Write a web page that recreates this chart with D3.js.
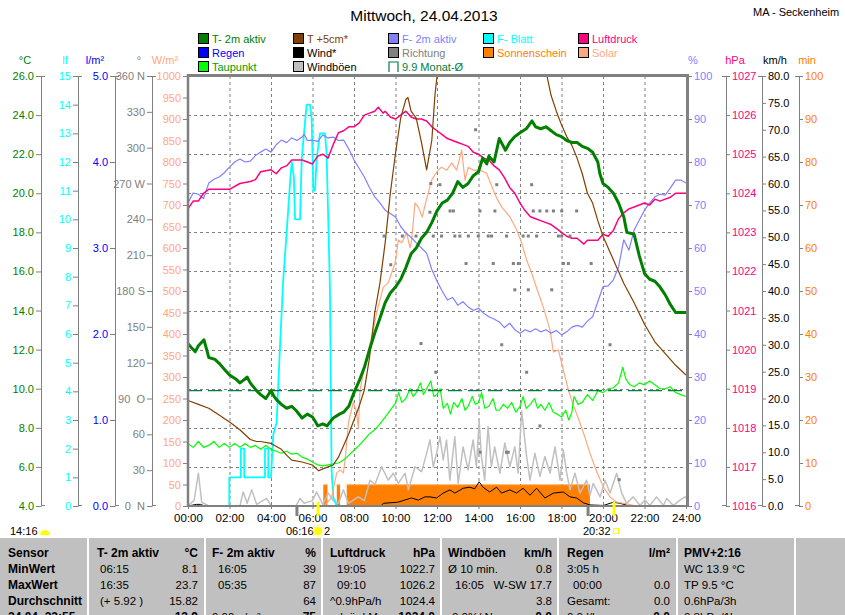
<!DOCTYPE html>
<html>
<head>
<meta charset="utf-8">
<script src="https://cdn.jsdelivr.net/npm/d3@7"></script>
<style>
body { margin: 0; background: #fff; }
svg text { font-family: "Liberation Sans", Arial, sans-serif; font-size: 11px; }
</style>
</head>
<body>
<div id="chart"></div>
<script>
// ---------------- data (hour of day, value) ----------------
var timeLabels = ['00:00','02:00','04:00','06:00','08:00','10:00','12:00','14:00','16:00','18:00','20:00','22:00','24:00'];

var temp2m = [[0,12.3],[0.17,12.1],[0.35,11.9],[0.5,12.2],[0.77,12.5],[0.9,12.0],[1.0,11.6],[1.3,11.5],[1.5,11.3],[1.75,11.0],[2.0,10.7],[2.3,10.5],[2.5,10.3],[2.75,10.5],[2.85,10.6],[3.0,10.3],[3.3,9.9],[3.5,9.7],[3.75,9.5],[4.0,9.9],[4.15,9.6],[4.3,9.4],[4.5,9.2],[4.75,9.0],[5.0,9.1],[5.2,8.9],[5.5,8.5],[5.75,8.7],[6.0,8.55],[6.15,8.3],[6.25,8.1],[6.5,8.2],[6.7,8.1],[7.0,8.5],[7.3,8.7],[7.5,8.8],[7.75,9.1],[8.0,9.8],[8.25,10.4],[8.5,11.1],[8.75,12.0],[9.0,12.85],[9.25,13.6],[9.5,14.4],[9.75,14.9],[10.0,15.2],[10.25,15.6],[10.5,16.2],[10.75,16.9],[11.0,17.2],[11.25,17.7],[11.5,18.0],[11.75,18.5],[12.0,19.1],[12.25,19.5],[12.5,19.65],[12.75,20.0],[13.0,20.6],[13.25,20.3],[13.5,20.5],[13.75,20.9],[14.0,21.1],[14.2,21.8],[14.4,21.5],[14.5,21.9],[14.75,21.6],[15.0,22.8],[15.15,22.5],[15.3,22.2],[15.5,22.6],[15.75,22.9],[16.0,23.1],[16.3,23.3],[16.58,23.7],[16.75,23.4],[17.0,23.3],[17.25,23.4],[17.5,23.2],[17.75,23.0],[18.0,22.9],[18.25,22.7],[18.5,22.6],[18.75,22.6],[19.0,22.4],[19.25,22.3],[19.5,22.1],[19.75,21.6],[19.85,21.0],[20.0,20.5],[20.25,20.3],[20.5,20.0],[20.75,19.5],[21.0,18.8],[21.15,18.0],[21.5,17.9],[21.75,16.8],[22.0,15.9],[22.25,15.6],[22.5,15.5],[22.75,15.2],[23.0,14.8],[23.25,14.3],[23.5,13.9],[24.0,13.9]];

var dewPoint = [[0,7.2],[0.25,7.0],[0.5,7.3],[0.75,7.0],[1.0,7.1],[1.25,7.3],[1.5,7.0],[1.75,7.2],[2.0,7.0],[2.25,7.2],[2.5,7.0],[2.75,7.2],[3.0,7.0],[3.25,7.1],[3.5,6.9],[3.75,7.1],[4.0,6.9],[4.25,6.8],[4.5,6.7],[4.75,6.8],[5.0,6.65],[5.25,6.7],[5.5,6.5],[5.75,6.4],[6.0,6.25],[6.25,6.1],[6.5,6.05],[6.75,6.1],[7.0,6.15],[7.25,6.2],[7.5,6.35],[7.75,6.6],[8.0,6.85],[8.25,7.1],[8.5,7.4],[8.75,7.7],[9.0,7.9],[9.25,8.2],[9.5,8.55],[9.75,8.9],[10.0,9.25],[10.15,9.8],[10.3,9.3],[10.5,9.5],[10.7,10.0],[10.85,9.6],[11.0,9.8],[11.2,10.3],[11.35,9.7],[11.5,10.0],[11.7,10.4],[11.85,9.6],[12.0,9.7],[12.15,10.0],[12.3,9.0],[12.5,9.25],[12.65,8.7],[12.8,9.3],[13.0,9.05],[13.2,9.5],[13.35,8.9],[13.5,9.1],[13.7,9.6],[13.85,9.2],[14.0,9.3],[14.15,9.8],[14.3,9.0],[14.5,9.1],[14.7,9.5],[14.85,8.9],[15.0,8.9],[15.2,9.2],[15.4,9.0],[15.6,9.3],[15.8,8.8],[16.0,9.1],[16.15,9.6],[16.3,9.0],[16.5,9.2],[16.7,9.5],[16.85,9.0],[17.0,9.2],[17.2,8.9],[17.4,9.3],[17.6,8.8],[17.8,8.7],[18.0,8.55],[18.2,8.9],[18.35,8.4],[18.5,8.8],[18.6,9.6],[18.8,9.2],[19.0,9.3],[19.25,9.7],[19.5,9.4],[19.75,9.9],[20.0,9.8],[20.25,10.0],[20.5,10.05],[20.75,10.3],[20.95,11.1],[21.1,10.5],[21.3,10.2],[21.5,10.1],[21.75,10.3],[22.0,10.2],[22.25,10.4],[22.5,10.2],[22.75,10.0],[23.0,10.0],[23.25,10.1],[23.5,9.8],[23.75,9.7],[24.0,9.6]];

var temp5cm = [[0,9.4],[0.5,9.2],[1.0,9.0],[1.5,8.65],[2.0,8.3],[2.5,7.9],[3.0,7.4],[3.3,7.3],[3.5,7.3],[4.0,7.2],[4.5,6.9],[4.75,6.6],[5.0,6.35],[5.5,6.25],[6.0,6.1],[6.3,5.8],[6.5,5.9],[6.75,6.0],[7.0,6.1],[7.25,6.5],[7.5,7.1],[7.75,7.7],[8.0,8.4],[8.25,9.1],[8.5,9.95],[8.75,11.6],[9.0,13.9],[9.25,15.4],[9.5,17.45],[9.75,20.0],[10.0,22.05],[10.25,23.85],[10.5,24.8],[10.6,24.9],[10.75,24.2],[11.0,23.85],[11.25,22.6],[11.5,21.2],[11.75,22.7],[11.9,25.0],[12.05,26.5],[13,29],[14,30],[15,30],[16,28.5],[17,26.8],[17.3,26.0],[17.5,25.0],[17.75,24.2],[18.0,23.5],[18.25,22.9],[18.5,22.45],[18.75,21.8],[19.0,21.0],[19.25,20.0],[19.5,19.5],[19.75,18.6],[20.0,17.8],[20.25,17.2],[20.5,16.6],[20.75,16.0],[21.0,15.4],[21.5,14.4],[22.0,13.3],[22.5,12.4],[23.0,11.8],[23.5,11.2],[24.0,10.7]];

var humidity = [[0,70.5],[0.25,72.8],[0.5,72.5],[0.75,71.5],[1.0,75.1],[1.25,76.0],[1.5,76.5],[1.75,77.5],[2.0,78.8],[2.25,80.0],[2.5,80.7],[2.75,80.0],[3.0,80.2],[3.25,81.5],[3.5,82.3],[3.75,83.0],[4.0,82.3],[4.25,84.0],[4.5,85.1],[4.75,84.5],[5.0,85.6],[5.25,85.0],[5.5,85.8],[5.6,86.5],[5.75,85.0],[6.0,85.1],[6.25,84.8],[6.5,86.3],[6.75,85.6],[7.0,85.8],[7.25,85.0],[7.5,85.1],[7.75,83.0],[8.0,80.5],[8.25,78.5],[8.5,76.5],[8.75,74.0],[9.0,71.9],[9.25,70.5],[9.5,68.8],[9.75,68.0],[10.0,67.2],[10.25,65.0],[10.5,63.5],[10.75,62.5],[11.0,61.2],[11.25,60.0],[11.5,58.8],[11.75,55.0],[12.0,52.3],[12.25,50.0],[12.5,47.9],[12.75,48.5],[13.0,46.7],[13.25,47.5],[13.5,46.3],[13.75,45.5],[14.0,46.0],[14.25,44.8],[14.5,44.0],[14.75,43.5],[15.0,42.8],[15.25,41.5],[15.5,42.5],[15.75,41.0],[16.0,40.2],[16.25,41.0],[16.5,40.5],[16.75,41.2],[17.0,40.5],[17.25,41.0],[17.5,40.2],[17.75,40.8],[18.0,39.8],[18.25,40.5],[18.5,41.6],[18.75,42.0],[19.0,41.6],[19.25,43.0],[19.5,44.0],[19.75,47.5],[20.0,51.0],[20.25,51.2],[20.5,52.6],[20.75,55.6],[21.0,61.9],[21.25,59.5],[21.5,64.2],[21.75,66.5],[22.0,68.8],[22.25,70.5],[22.5,71.9],[22.75,72.5],[23.0,72.3],[23.25,74.0],[23.5,75.8],[23.75,75.8],[24.0,75.1]];

var leafWet = [[0,0],[1.99,0],[1.99,1],[2.55,1],[2.55,2],[2.71,2],[2.71,1],[3.71,1],[3.71,2],[3.87,2],[3.87,1],[4.0,1],[4.11,2.5],[4.27,2.9],[4.43,5.5],[4.59,7.9],[4.75,9.5],[4.92,11.3],[5.0,12.0],[5.1,11.5],[5.16,10.0],[5.4,10.0],[5.48,12.1],[5.64,13.4],[5.72,14.0],[5.88,14.0],[5.96,13.5],[6.04,11.0],[6.12,11.0],[6.2,12.1],[6.36,13.0],[6.6,13.0],[6.68,12.3],[6.84,7.6],[6.92,1.25],[7.0,0.3],[7.17,0],[24,0]];

var pressure = [[0,1023.6],[0.25,1023.8],[0.5,1023.8],[0.75,1024.0],[1.0,1024.1],[1.5,1024.1],[2.0,1024.1],[2.5,1024.25],[3.0,1024.3],[3.25,1024.35],[3.5,1024.55],[4.0,1024.6],[4.25,1024.5],[4.5,1024.65],[4.75,1024.7],[5.0,1024.85],[5.5,1024.85],[6.0,1024.75],[6.25,1024.95],[6.5,1025.0],[6.75,1024.9],[7.0,1025.25],[7.25,1025.55],[7.5,1025.6],[7.75,1025.7],[8.0,1025.7],[8.25,1025.8],[8.5,1026.0],[8.75,1026.05],[9.0,1026.1],[9.17,1026.2],[9.4,1026.05],[9.5,1026.1],[9.75,1025.95],[10.0,1025.9],[10.25,1026.0],[10.5,1026.1],[10.75,1025.95],[11.0,1025.9],[11.25,1025.9],[11.5,1025.85],[11.75,1025.7],[12.0,1025.6],[12.25,1025.5],[12.5,1025.4],[12.75,1025.35],[13.0,1025.3],[13.25,1025.25],[13.5,1025.2],[13.75,1025.05],[14.0,1025.0],[14.25,1024.9],[14.5,1024.85],[14.75,1024.7],[15.0,1024.6],[15.25,1024.4],[15.5,1024.15],[15.75,1024.0],[16.0,1023.75],[16.25,1023.55],[16.5,1023.4],[16.75,1023.35],[17.0,1023.3],[17.25,1023.25],[17.5,1023.2],[17.75,1023.1],[18.0,1023.0],[18.25,1022.9],[18.5,1022.85],[18.75,1022.85],[19.08,1022.7],[19.25,1022.8],[19.5,1022.8],[19.75,1022.8],[20.0,1022.95],[20.25,1022.9],[20.5,1023.05],[20.75,1023.35],[21.0,1023.5],[21.25,1023.6],[21.5,1023.65],[21.75,1023.7],[22.0,1023.75],[22.25,1023.7],[22.5,1023.85],[22.75,1023.8],[23.0,1023.85],[23.25,1023.9],[23.5,1024.0],[24.0,1024.0]];

var solar = [[0,0],[6.4,0],[6.6,2],[6.92,20],[7.17,77],[7.33,84],[7.49,77],[7.57,107],[7.73,193],[7.97,242],[8.13,216],[8.21,181],[8.29,270],[8.61,347],[8.93,409],[9.09,449],[9.25,479],[9.41,509],[9.65,519],[9.98,565],[10.14,619],[10.3,612],[10.54,635],[10.7,600],[10.78,619],[10.94,705],[11.1,695],[11.29,672],[11.45,705],[11.74,758],[11.9,770],[12.06,781],[12.22,788],[12.47,781],[12.71,798],[12.95,781],[13.19,828],[13.35,758],[13.51,788],[13.75,781],[14.07,781],[14.39,774],[14.71,735],[14.88,716],[15.12,695],[15.52,672],[15.84,642],[16.08,612],[16.32,572],[16.56,542],[16.8,507],[17.12,463],[17.45,409],[17.61,358],[17.85,363],[18.09,316],[18.33,270],[18.57,235],[18.89,193],[19.13,160],[19.37,123],[19.7,79],[20.02,44],[20.34,21],[20.66,9],[21.14,5],[21.62,0],[24,0]];

var wind = [[0,0],[0.4,0.3],[0.6,0.3],[0.8,0],[9.3,0],[9.41,0.5],[10.1,0.7],[10.78,1.5],[11.1,1.1],[11.42,1.7],[11.66,1.7],[11.98,1.5],[12.3,2.4],[12.62,3.0],[12.86,2.4],[13.26,3.3],[13.58,3.5],[13.82,3.2],[14.03,4.5],[14.22,3.5],[14.54,2.6],[14.87,3.5],[15.11,2.4],[15.51,3.0],[15.83,2.4],[16.15,3.3],[16.48,2.0],[16.8,3.3],[17.2,1.5],[17.61,2.4],[18.09,2.6],[18.41,1.7],[18.73,1.5],[19.05,0.6],[19.37,0.2],[20.02,0.1],[20.5,0.7],[20.82,0.5],[21.3,0],[24,0]];

var gusts = [[0,0],[0.3,1.1],[0.5,6.1],[0.66,0.7],[1,0],[2.5,0],[2.66,2.6],[2.85,0.5],[3.07,3.0],[3.31,0.3],[3.79,1.4],[4.0,0],[5.2,0],[5.4,1.4],[5.6,0.5],[6.0,1.0],[6.2,2.6],[6.5,0.3],[6.76,2.4],[7.0,1.0],[7.25,0.5],[7.49,3.0],[7.73,0.5],[8.21,1.7],[8.5,1.0],[8.77,4.8],[9.01,4.0],[9.33,7.3],[9.65,4.8],[9.89,6.1],[10.14,4.2],[10.46,6.1],[10.62,3.0],[10.94,7.3],[11.26,6.4],[11.5,9.8],[11.66,12.3],[11.82,7.3],[11.98,9.8],[12.14,12.9],[12.3,8.6],[12.46,12.3],[12.62,4.8],[12.86,12.9],[13.02,4.2],[13.26,11.0],[13.5,6.7],[13.74,12.3],[13.9,7.3],[14.03,16.0],[14.14,9.2],[14.3,4.8],[14.46,14.8],[14.62,7.3],[14.78,11.0],[15.03,6.1],[15.27,11.7],[15.51,7.3],[15.75,11.0],[15.91,6.1],[16.08,17.7],[16.32,9.2],[16.48,4.8],[16.72,9.8],[16.96,5.5],[17.2,9.2],[17.45,6.1],[17.69,11.0],[17.93,4.8],[18.09,10.4],[18.25,6.1],[18.41,3.0],[18.65,6.1],[18.89,2.4],[19.21,4.8],[19.37,2.0],[19.53,4.2],[19.86,1.7],[20.1,4.8],[20.34,2.4],[20.66,6.1],[20.9,2.4],[21.14,0.5],[21.46,1.7],[21.78,0.1],[22.02,1.1],[22.26,0.1],[22.58,1.7],[22.91,0.1],[23.07,1.4],[23.39,0.1],[23.71,1.1],[23.95,1.7],[24,1.5]];

var direction = [[9.45,226],[9.77,202],[10.33,226],[10.99,226],[11.23,136],[11.66,246],[11.7,270],[11.82,226],[11.94,112],[12.14,269],[12.22,226],[12.63,247],[12.79,247],[12.86,226],[13.1,226],[13.4,203],[13.51,226],[13.86,315],[13.99,226],[14.07,247],[14.07,45],[14.47,226],[14.63,226],[14.71,203],[14.79,247],[14.88,269],[15.12,135],[15.35,226],[15.35,45],[15.43,45],[15.68,203],[15.75,181],[15.92,203],[16.15,226],[16.32,112],[16.4,226],[16.4,181],[16.56,269],[16.64,247],[16.8,226],[16.96,247],[16.96,67],[17.29,247],[17.53,181],[17.61,247],[17.85,226],[18.01,247],[18.01,226],[18.09,203],[18.33,203],[18.41,226],[18.73,247],[19.43,203],[20.34,135],[20.78,22]];

// sunshine: [start hour, end hour, minutes per 5 min]
var sunshine = [[6.52,6.72,5],[7.17,7.33,5],[7.65,19.37,5]];
var monthAvg = 9.9;

// ---------------- layout ----------------
var W = 845, H = 615;
var pLeft = 188, pRight = 686, pTop = 76, pBottom = 506;

var svg = d3.select('#chart').append('svg')
  .attr('width', W).attr('height', H);

var x = d3.scaleLinear().domain([0, 24]).range([pLeft, pRight]);
var yT = d3.scaleLinear().domain([4, 26]).range([pBottom, pTop]);
var yLf = d3.scaleLinear().domain([0, 15]).range([pBottom, pTop]);
var yRain = d3.scaleLinear().domain([0, 5]).range([pBottom, pTop]);
var yDir = d3.scaleLinear().domain([0, 360]).range([pBottom, pTop]);
var ySol = d3.scaleLinear().domain([0, 1000]).range([pBottom, pTop]);
var yHum = d3.scaleLinear().domain([0, 100]).range([pBottom, pTop]);
var yP = d3.scaleLinear().domain([1016, 1027]).range([pBottom, pTop]);
var yWind = d3.scaleLinear().domain([0, 80]).range([pBottom, pTop]);
var ySun = d3.scaleLinear().domain([0, 100]).range([pBottom, pTop]);

// title
svg.append('text').attr('x', 424).attr('y', 21).attr('text-anchor', 'middle')
  .style('font-size', '15.5px').text('Mittwoch, 24.04.2013');
svg.append('text').attr('x', 753).attr('y', 16).text('MA - Seckenheim');

// legend
var legendItems = [
  ['T- 2m aktiv', '#008000', '#008000'], ['T +5cm*', '#804000', '#804000'], ['F- 2m aktiv', '#8080ff', '#8080ff'], ['F- Blatt', '#00ffff', '#00ffff'], ['Luftdruck', '#ff0080', '#ff0080'],
  ['Regen', '#0000ff', '#0000ff'], ['Wind*', '#000000', '#000000'], ['Richtung', '#808080', '#808080'], ['Sonnenschein', '#ff8000', '#ff8000'], ['Solar', '#ffa880', '#ffa880'],
  ['Taupunkt', '#00ff00', '#00a000'], ['Windböen', '#c0c0c0', '#000000'], ['9.9 Monat-Ø', null, '#008040']
];
var legendX = [198, 293, 388, 483, 578];
var lg = svg.selectAll('.leg').data(legendItems).enter().append('g')
  .attr('transform', function(d, i) {
    return 'translate(' + legendX[i % 5] + ',' + (33 + Math.floor(i / 5) * 14) + ')';
  });
lg.filter(function(d) { return d[1]; }).append('rect')
  .attr('x', 0.5).attr('y', 0.5).attr('width', 10).attr('height', 10)
  .attr('fill', function(d) { return d[1]; }).attr('stroke', '#000');
lg.filter(function(d) { return !d[1]; }).append('path')
  .attr('d', 'M1,11V1H10V11').attr('fill', 'none').attr('stroke', '#008040').attr('stroke-width', 1.2);
lg.append('text').attr('x', 14).attr('y', 10)
  .attr('fill', function(d) { return d[2]; })
  .text(function(d) { return d[0]; });

// axis headers
var headers = [['°C', 25, '#008000'], ['lf', 65, '#00ffff'], ['l/m²', 95, '#0000ff'], ['°', 139, '#808080'], ['W/m²', 165, '#ffa880'],
  ['%', 693, '#8080ff'], ['hPa', 735, '#ff0080'], ['km/h', 775, '#000000'], ['min', 807, '#ff8000']];
svg.selectAll('.hdr').data(headers).enter().append('text')
  .attr('x', function(d) { return d[1]; }).attr('y', 64).attr('text-anchor', 'middle')
  .attr('fill', function(d) { return d[2]; }).text(function(d) { return d[0]; });

// grid
var grid = svg.append('g').attr('stroke', '#808080').attr('stroke-dasharray', '3,3');
grid.selectAll('.vg').data(d3.range(2, 24, 2)).enter().append('line')
  .attr('x1', function(d) { return x(d) + 0.5; }).attr('x2', function(d) { return x(d) + 0.5; })
  .attr('y1', pTop).attr('y2', pBottom);
grid.selectAll('.hg').data(d3.range(6, 26, 2)).enter().append('line')
  .attr('x1', pLeft).attr('x2', pRight)
  .attr('y1', function(d) { return Math.round(yT(d)) + 0.5; }).attr('y2', function(d) { return Math.round(yT(d)) + 0.5; });

// axes
function styleAxis(g, color) {
  g.attr('font-family', null).attr('font-size', null);
  g.select('.domain').attr('stroke', '#808080');
  g.selectAll('.tick line').attr('stroke', '#808080');
  g.selectAll('.tick text').attr('fill', color);
}
function leftAxis(scale, xPos, ticks, fmt, color, cap) {
  var ax = d3.axisLeft(scale).tickValues(ticks).tickFormat(fmt).tickSize(5).tickSizeOuter(0).tickPadding(2);
  var g = svg.append('g').attr('transform', 'translate(' + xPos + ',0)').call(ax);
  styleAxis(g, color);
  if (cap) {
    g.append('line').attr('x1', 0).attr('x2', 4).attr('y1', pTop + 0.5).attr('y2', pTop + 0.5).attr('stroke', '#808080');
    g.append('line').attr('x1', 0).attr('x2', 4).attr('y1', pBottom - 0.5).attr('y2', pBottom - 0.5).attr('stroke', '#808080');
  }
  return g;
}
function rightAxis(scale, xPos, ticks, fmt, color, cap) {
  var ax = d3.axisRight(scale).tickValues(ticks).tickFormat(fmt).tickSize(4).tickSizeOuter(0).tickPadding(2);
  var g = svg.append('g').attr('transform', 'translate(' + xPos + ',0)').call(ax);
  styleAxis(g, color);
  if (cap) {
    g.append('line').attr('x1', -4).attr('x2', 0).attr('y1', pTop + 0.5).attr('y2', pTop + 0.5).attr('stroke', '#808080');
    g.append('line').attr('x1', -4).attr('x2', 0).attr('y1', pBottom - 0.5).attr('y2', pBottom - 0.5).attr('stroke', '#808080');
  }
  return g;
}
var dirNames = {360: '360 N', 270: '270 W', 180: '180 S', 90: '90  O', 0: '0  N'};

leftAxis(yT, 41, d3.range(4, 27, 2), d3.format('.1f'), '#008000', true);
leftAxis(yLf, 78, d3.range(0, 16, 1), d3.format('d'), '#00ffff', true);
leftAxis(yRain, 115, d3.range(0, 6, 1), d3.format('.1f'), '#0000ff', true);
leftAxis(yDir, 152, d3.range(0, 361, 30), function(d) { return dirNames[d] || d; }, '#808080', true)
  .selectAll('.tick text').style('white-space', 'pre');
leftAxis(ySol, pLeft, d3.range(0, 1001, 50), d3.format('d'), '#ffa880', false);

rightAxis(yHum, 688, d3.range(0, 101, 10), d3.format('d'), '#8080ff', false);
rightAxis(yP, 726, d3.range(1016, 1028, 1), d3.format('d'), '#ff0080', true);
rightAxis(yWind, 762, d3.range(0, 81, 5), d3.format('.1f'), '#000000', true);
rightAxis(ySun, 799, d3.range(0, 101, 10), d3.format('d'), '#ff8000', true);

// x axis
var xAx = d3.axisBottom(x).tickValues(d3.range(0, 25, 2))
  .tickFormat(function(d) { return timeLabels[d / 2]; }).tickSize(3).tickSizeOuter(0).tickPadding(5);
var gx = svg.append('g').attr('transform', 'translate(0,' + pBottom + ')').call(xAx);
gx.attr('font-family', null).attr('font-size', null);
gx.select('.domain').attr('stroke', '#808080');
gx.selectAll('.tick line').attr('stroke', '#808080');
gx.selectAll('.tick text').attr('fill', '#000').style('font-size', '11.5px');

// clip
svg.append('clipPath').attr('id', 'plot').append('rect')
  .attr('x', pLeft).attr('y', pTop).attr('width', pRight - pLeft).attr('height', pBottom - pTop);
var plot = svg.append('g').attr('clip-path', 'url(#plot)');

function drawLine(data, scale, color, width) {
  var line = d3.line()
    .x(function(d) { return x(d[0]); })
    .y(function(d) { return scale(d[1]); });
  return plot.append('path').datum(data)
    .attr('d', line).attr('fill', 'none')
    .attr('stroke', color).attr('stroke-width', width)
    .attr('stroke-linejoin', 'round');
}

// sunshine bars
plot.selectAll('.sun').data(sunshine).enter().append('rect')
  .attr('x', function(d) { return x(d[0]); })
  .attr('width', function(d) { return x(d[1]) - x(d[0]); })
  .attr('y', function(d) { return ySun(d[2]); })
  .attr('height', function(d) { return pBottom - ySun(d[2]); })
  .attr('fill', '#ff8000');
plot.selectAll('.sunedge').data(sunshine).enter().append('line')
  .attr('x1', function(d) { return x(d[0]); }).attr('x2', function(d) { return x(d[1]); })
  .attr('y1', function(d) { return ySun(d[2]) + 0.5; }).attr('y2', function(d) { return ySun(d[2]) + 0.5; })
  .attr('stroke', '#ffb060').attr('stroke-dasharray', '1,1');

drawLine(gusts, yWind, '#c0c0c0', 1.5);
drawLine(wind, yWind, '#000000', 1);
drawLine(leafWet, yLf, '#00ffff', 1.8);
drawLine(solar, ySol, '#ffa880', 1.2);
drawLine(humidity, yHum, '#8080ff', 1.2);
drawLine(pressure, yP, '#ff0080', 1.5);
drawLine(dewPoint, yT, '#00ff00', 1.2);
drawLine(temp5cm, yT, '#804000', 1.2);

// monthly mean
plot.append('line')
  .attr('x1', pLeft).attr('x2', pRight)
  .attr('y1', yT(monthAvg)).attr('y2', yT(monthAvg))
  .attr('stroke', '#008040').attr('stroke-width', 1.2).attr('stroke-dasharray', '14,6');

drawLine(temp2m, yT, '#008000', 3);

// wind direction dots
plot.selectAll('.dir').data(direction).enter().append('rect')
  .attr('x', function(d) { return x(d[0]) - 1.5; })
  .attr('y', function(d) { return yDir(d[1]) - 1.5; })
  .attr('width', 3).attr('height', 3).attr('fill', '#808080');

// frame
svg.append('line').attr('x1', pLeft - 1).attr('x2', pRight + 3).attr('y1', pTop - 0.5).attr('y2', pTop - 0.5)
  .attr('stroke', '#808080').attr('stroke-width', 3);
svg.append('line').attr('x1', pLeft).attr('x2', pLeft).attr('y1', pTop - 2).attr('y2', pBottom)
  .attr('stroke', '#808080').attr('stroke-width', 2.5);
svg.append('line').attr('x1', pRight + 1.5).attr('x2', pRight + 1.5).attr('y1', pTop - 2).attr('y2', pBottom)
  .attr('stroke', '#808080').attr('stroke-width', 3);
svg.append('line').attr('x1', pLeft).attr('x2', pRight + 3).attr('y1', pBottom).attr('y2', pBottom)
  .attr('stroke', '#808080').attr('stroke-width', 2);

// twilight / sunrise / sunset markers
var twilight = [5.25, 19.28];
svg.selectAll('.tw').data(twilight).enter().append('line')
  .attr('x1', function(d) { return x(d); }).attr('x2', function(d) { return x(d); })
  .attr('y1', pBottom).attr('y2', pBottom + 10).attr('stroke', '#808080').attr('stroke-width', 3);
var sunTimes = [6 + 16 / 60, 20 + 32 / 60];
svg.selectAll('.sr').data(sunTimes).enter().append('line')
  .attr('x1', function(d) { return x(d); }).attr('x2', function(d) { return x(d); })
  .attr('y1', pBottom - 4).attr('y2', pBottom + 10).attr('stroke', '#ffff00').attr('stroke-width', 3);

svg.append('text').attr('x', 10).attr('y', 535).text('14:16');
svg.append('path').attr('d', 'M40,535 A5,5 0 0 1 50,535 Z').attr('fill', '#ffff00');
svg.append('text').attr('x', 286).attr('y', 535).text('06:16');
var sun = svg.append('g').attr('transform', 'translate(318,531)');
sun.append('circle').attr('r', 4).attr('fill', '#ffff00');
sun.selectAll('line').data(d3.range(0, 360, 45)).enter().append('line')
  .attr('x1', function(d) { return 4.5 * Math.cos(d * Math.PI / 180); })
  .attr('y1', function(d) { return 4.5 * Math.sin(d * Math.PI / 180); })
  .attr('x2', function(d) { return 6.5 * Math.cos(d * Math.PI / 180); })
  .attr('y2', function(d) { return 6.5 * Math.sin(d * Math.PI / 180); })
  .attr('stroke', '#ffff00').attr('stroke-width', 1);
svg.append('text').attr('x', 324).attr('y', 535).text('2');
svg.append('text').attr('x', 583).attr('y', 535).text('20:32');
svg.append('rect').attr('x', 613.5).attr('y', 528.5).attr('width', 5).attr('height', 5)
  .attr('fill', 'none').attr('stroke', '#ffff00');

// ---------------- table ----------------
var tableTop = 538;
var colSep = [88, 205, 322, 441, 558, 677, 795];
var headX = [8, 97, 212, 330, 448, 567, 684];
var unitX = [null, 198, 316, 435, 552, 670, null];
var tableHeads = ['Sensor', 'T- 2m aktiv', 'F- 2m aktiv', 'Luftdruck', 'Windböen', 'Regen', 'PMV+2:16'];
var tableUnits = ['', '°C', '%', 'hPa', 'km/h', 'l/m²', ''];
var rowNames = ['MinWert', 'MaxWert', 'Durchschnitt', '24.04. 23:55'];
var cellLeft = [
  null,
  ['06:15', '16:35', '(+ 5.92 )', ''],
  ['16:05', '05:35', '', '9.99 g/m³'],
  ['19:05', '09:10', '^0.9hPa/h', 'rel. ü.d.M.'],
  ['Ø 10 min.', '16:05', '', '0.0%/ N'],
  ['3:05 h', '00:00', 'Gesamt:', '0.0 l/h'],
  ['WC 13.9 °C', 'TP 9.5 °C', '0.6hPa/3h', '0.3hPa/1h']
];
var cellLeftX = [
  null,
  [100, 100, 100, 100],
  [218, 218, 218, 212],
  [337, 337, 330, 330],
  [448, 455, 448, 452],
  [567, 573, 567, 567],
  [684, 684, 684, 684]
];
var cellRight = [
  null,
  ['8.1', '23.7', '15.82', '13.9'],
  ['39', '87', '64', '75'],
  ['1022.7', '1026.2', '1024.4', '1024.0'],
  ['0.8', 'W-SW 17.7', '3.8', '0.0'],
  ['', '0.0', '0.0', '0.0'],
  null
];
var rowY = [557, 573, 589, 605, 621];

svg.append('rect').attr('x', 0).attr('y', tableTop).attr('width', W).attr('height', H - tableTop).attr('fill', '#c0c0c0');
svg.selectAll('.sep').data(colSep).enter().append('line')
  .attr('x1', function(d) { return d; }).attr('x2', function(d) { return d; })
  .attr('y1', tableTop).attr('y2', H).attr('stroke', '#ffffff').attr('stroke-width', 2);

var tb = svg.append('g');
tableHeads.forEach(function(h, i) {
  tb.append('text').attr('x', headX[i]).attr('y', rowY[0])
    .style('font-weight', 'bold').style('font-size', '12px').text(h);
  if (tableUnits[i]) {
    tb.append('text').attr('x', unitX[i]).attr('y', rowY[0]).attr('text-anchor', 'end')
      .style('font-weight', 'bold').style('font-size', '12px').text(tableUnits[i]);
  }
});
rowNames.forEach(function(r, j) {
  tb.append('text').attr('x', 8).attr('y', rowY[j + 1])
    .style('font-weight', 'bold').style('font-size', '12px').text(r);
});
for (var c = 1; c < 7; c++) {
  for (var r = 0; r < 4; r++) {
    if (cellLeft[c][r]) {
      tb.append('text').attr('x', cellLeftX[c][r]).attr('y', rowY[r + 1])
        .style('font-size', '11.5px').text(cellLeft[c][r]);
    }
    if (cellRight[c] && cellRight[c][r]) {
      tb.append('text').attr('x', unitX[c]).attr('y', rowY[r + 1]).attr('text-anchor', 'end')
        .style('font-size', r === 3 ? '12px' : '11.5px')
        .style('font-weight', r === 3 ? 'bold' : 'normal')
        .text(cellRight[c][r]);
    }
  }
}
</script>
</body>
</html>
